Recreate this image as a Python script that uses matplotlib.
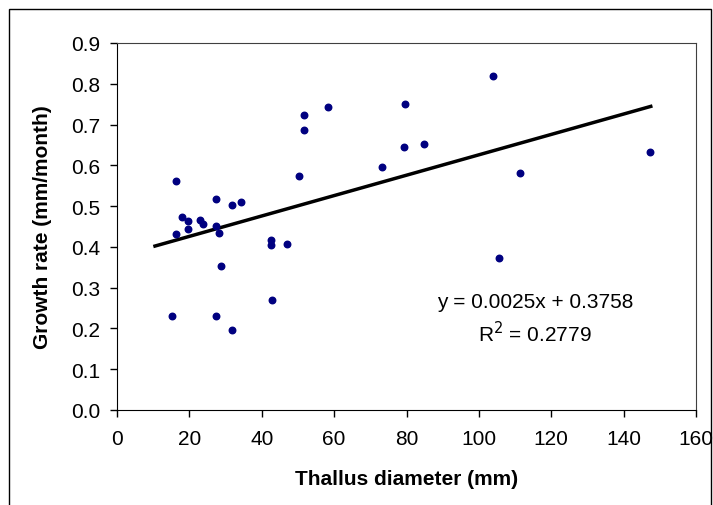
import matplotlib
matplotlib.use('Agg')
import matplotlib.pyplot as plt
from matplotlib.patches import Rectangle

# data
diameter = [16.2, 16.2, 15.2, 18.1, 19.7, 19.7, 22.9, 23.8, 27.3, 27.3,
            28.2, 28.7, 27.3, 31.8, 34.4, 31.8, 42.5, 42.5, 46.9, 42.9,
            50.4, 51.8, 51.8, 58.4, 73.2, 79.3, 79.7, 84.7, 103.8, 105.6,
            111.4, 147.4]
growth = [0.562, 0.431, 0.231, 0.474, 0.463, 0.443, 0.467, 0.455, 0.518, 0.452,
          0.435, 0.353, 0.231, 0.502, 0.510, 0.195, 0.416, 0.404, 0.408, 0.270,
          0.573, 0.723, 0.687, 0.743, 0.597, 0.644, 0.750, 0.652, 0.818, 0.373,
          0.581, 0.633]

slope = 0.0025
intercept = 0.3758
r2 = 0.2779
trend_x = [10.5, 147.5]

x_ticks = [0, 20, 40, 60, 80, 100, 120, 140, 160]
y_ticks = [0.0, 0.1, 0.2, 0.3, 0.4, 0.5, 0.6, 0.7, 0.8, 0.9]

plt.rcParams['font.family'] = ['Liberation Sans', 'DejaVu Sans']

fig = plt.figure(figsize=(7.13, 5.06), dpi=100)
ax = fig.add_axes([117 / 713, (506 - 411) / 506, 579 / 713, 367 / 506])

# outer chart frame
fig.patches.append(Rectangle((9 / 713, -0.01), 702 / 713, (506 - 10) / 506 + 0.01,
                             transform=fig.transFigure, fill=False,
                             edgecolor='black', linewidth=1.0))

ax.scatter(diameter, growth, s=22, color='#000080', zorder=3)

trend_y = [slope * x + intercept for x in trend_x]
ax.plot(trend_x, trend_y, color='black', linewidth=2.5, zorder=2)

ax.text(115.5, 0.266, 'y = 0.0025x + 0.3758', ha='center', va='center', fontsize=15)
ax.text(115.5, 0.190, 'R$^2$ = 0.2779', ha='center', va='center', fontsize=15)

ax.set_xlim(0, 160)
ax.set_ylim(0, 0.9)
ax.set_xticks(x_ticks)
ax.set_yticks(y_ticks)
ax.set_yticklabels(['%.1f' % v for v in y_ticks])
ax.tick_params(direction='out', length=5, width=1, labelsize=15)
ax.tick_params(axis='x', pad=9)
ax.tick_params(axis='y', pad=7)

ax.set_xlabel('Thallus diameter (mm)', fontsize=15, fontweight='bold', labelpad=15)
ax.set_ylabel('Growth rate (mm/month)', fontsize=15, fontweight='bold', labelpad=14)

for side in ['top', 'right']:
    ax.spines[side].set_color('#404040')
for side in ['left', 'bottom']:
    ax.spines[side].set_color('black')

fig.savefig('out.png', dpi=100)
